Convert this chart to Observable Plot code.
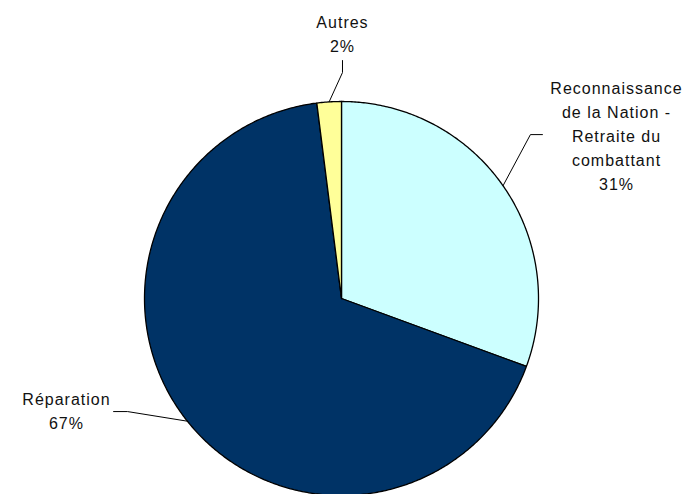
<!DOCTYPE html>
<html>
<head>
<meta charset="utf-8">
<script src="https://cdn.jsdelivr.net/npm/d3@7"></script>
<script src="https://cdn.jsdelivr.net/npm/@observablehq/plot@0.6"></script>
<style>
  html, body { margin: 0; padding: 0; background: #fff; }
  #chart { width: 688px; height: 494px; overflow: hidden; }
</style>
</head>
<body>
<div id="chart"></div>
<script>
// ---- data ----
const categories = ["Reconnaissance de la Nation - Retraite du combattant", "Réparation", "Autres"];
const labelTexts = ["Reconnaissance\nde la Nation -\nRetraite du\ncombattant", "Réparation", "Autres"];
const values = [30.6, 67.4, 2.0];

// ---- styles / layout (unit-circle coordinates) ----
const colors = ["#CCFFFF", "#003366", "#FFFF99"];
const labelPos = [[1.396, 1.122], [-1.396, -0.452], [0.005, 1.459]];
const leaderElbow = [[0.959, 0.832], [-1.086, -0.574], [0.005, 1.147]];
const leaderEnd = [[1.020, 0.832], [-1.157, -0.574], [0.005, 1.208]];

const total = d3.sum(values);
const arcs = d3.pie().sort(null).startAngle(0).endAngle(2 * Math.PI)(values);

// slice polygons
const slicePts = [];
arcs.forEach((a, i) => {
  const name = categories[i];
  slicePts.push({name, x: 0, y: 0});
  const n = Math.max(4, Math.ceil((a.endAngle - a.startAngle) / (Math.PI / 360)));
  for (let k = 0; k <= n; k++) {
    const t = a.startAngle + (a.endAngle - a.startAngle) * k / n;
    slicePts.push({name, x: Math.sin(t), y: Math.cos(t)});
  }
  slicePts.push({name, x: 0, y: 0});
});

// leader lines
const leaderPts = [];
arcs.forEach((a, i) => {
  const mid = (a.startAngle + a.endAngle) / 2;
  leaderPts.push({name: categories[i], x: Math.sin(mid), y: Math.cos(mid)});
  leaderPts.push({name: categories[i], x: leaderElbow[i][0], y: leaderElbow[i][1]});
  leaderPts.push({name: categories[i], x: leaderEnd[i][0], y: leaderEnd[i][1]});
});

// labels
const labels = categories.map((c, i) => ({
  x: labelPos[i][0], y: labelPos[i][1],
  text: labelTexts[i] + "\n" + Math.round(values[i] / total * 100) + "%"
}));

const chart = Plot.plot({
  width: 688,
  height: 494,
  margin: 0,
  style: {fontFamily: "'Liberation Sans', Arial, sans-serif", letterSpacing: "1px", background: "#fff", overflow: "hidden"},
  x: {type: "linear", domain: [-1, 1], range: [144, 538], axis: null},
  y: {type: "linear", domain: [-1, 1], range: [495, 101], axis: null},
  color: {domain: categories, range: colors},
  marks: [
    Plot.line(slicePts, {x: "x", y: "y", z: "name", fill: "name", stroke: "#000", strokeWidth: 1.3, strokeLinejoin: "round", curve: "linear"}),
    Plot.line(leaderPts, {x: "x", y: "y", z: "name", stroke: "#000", strokeWidth: 1, curve: "linear"}),
    Plot.text(labels, {x: "x", y: "y", text: "text", textAnchor: "middle", lineAnchor: "top", lineHeight: 1.5, fontSize: 16, fill: "#111"})
  ]
});
document.getElementById("chart").appendChild(chart);
</script>
</body>
</html>
